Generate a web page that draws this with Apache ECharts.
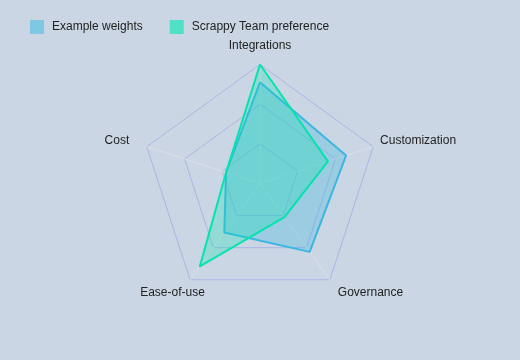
<!DOCTYPE html>
<html><head><meta charset="utf-8">
<script src="https://cdn.jsdelivr.net/npm/echarts@6/dist/echarts.min.js"></script>
<style>html,body{margin:0;padding:0;background:#cbd6e4}#c{width:520px;height:360px}</style>
</head><body><div id="c"></div>
<script>
// Indicators listed in ECharts' (counter-clockwise) drawing order so the chart reads clockwise
const indicators = ['Integrations', 'Cost', 'Ease-of-use', 'Governance', 'Customization'];
const maxValue = 10;
const seriesNames = ['Example weights', 'Scrappy Team preference'];
const exampleWeights = [8.5, 3.0, 5.1, 7.1, 7.6];
const scrappyTeam = [10, 3.0, 8.6, 3.5, 6.0];

const labelKeys = {'Integrations': 'i', 'Cost': 'c', 'Ease-of-use': 'e', 'Governance': 'g', 'Customization': 'u'};
const FONT = 'Liberation Sans, Arial, sans-serif';

const chart = echarts.init(document.getElementById('c'));
chart.setOption({
  backgroundColor: '#cbd6e4',
  animation: false,
  legend: {
    left: 25, top: 15, itemWidth: 14, itemHeight: 14, itemGap: 27,
    icon: 'rect',
    textStyle: {color: '#222', fontSize: 12, fontFamily: FONT, padding: [2, 0, 0, 3]},
    data: seriesNames
  },
  radar: {
    center: [260, 183.5],
    radius: 119,
    splitNumber: 3,
    startAngle: 90,
    indicator: indicators.map(n => ({name: n, max: maxValue})),
    nameGap: 12,
    axisName: {
      color: '#222', fontSize: 12, fontFamily: FONT,
      align: 'center', verticalAlign: 'middle',
      formatter: (name) => '{' + labelKeys[name] + '|' + name + '}',
      rich: {
        i: {fontSize: 12, fontFamily: FONT, color: '#222', padding: [0, 0, 13, 0]},
        u: {fontSize: 12, fontFamily: FONT, color: '#222', padding: [0, 0, 4, 67]},
        g: {fontSize: 12, fontFamily: FONT, color: '#222', padding: [6, 0, 0, 67]},
        e: {fontSize: 12, fontFamily: FONT, color: '#222', padding: [6, 21, 0, 0]},
        c: {fontSize: 12, fontFamily: FONT, color: '#222', padding: [0, 37, 4, 0]}
      }
    },
    splitLine: {lineStyle: {color: '#aab6e6', width: 1}},
    splitArea: {show: false},
    axisLine: {lineStyle: {color: '#dcdfe6', width: 1}}
  },
  series: [{
    type: 'radar',
    symbol: 'none',
    data: [
      {value: exampleWeights, name: seriesNames[0],
       itemStyle: {color: '#7ec8e3'},
       lineStyle: {color: '#3cb6e0', width: 2},
       areaStyle: {color: '#3cb6e0', opacity: 0.32}},
      {value: scrappyTeam, name: seriesNames[1],
       itemStyle: {color: '#50e0c8'},
       lineStyle: {color: '#05e3b0', width: 2},
       areaStyle: {color: '#05e3b0', opacity: 0.28}}
    ]
  }]
});
</script></body></html>
